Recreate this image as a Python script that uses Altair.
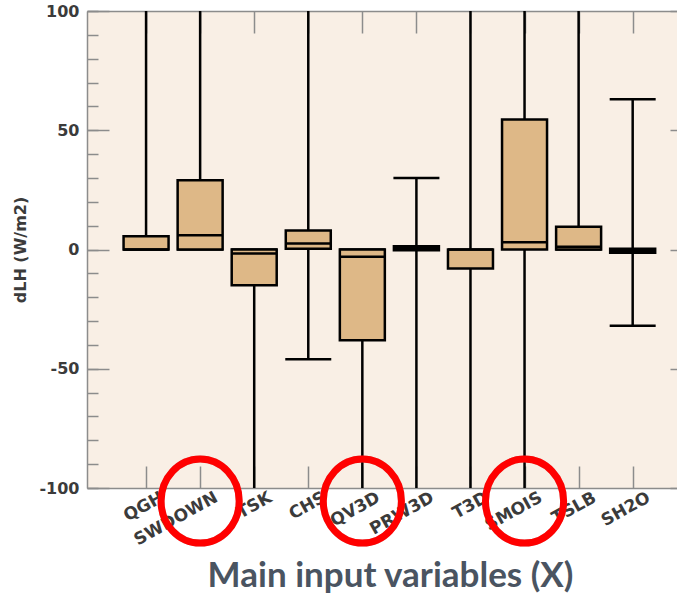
import json
import altair as alt
import pandas as pd

# Sensitivity of latent heat flux (dLH) to each input variable
categories = ["QGH", "SWDOWN", "TSK", "CHS", "QV3D", "PRW3D", "T3D", "SMOIS", "TSLB", "SH2O"]
# whisker ends (values past +-100 run off the panel)
whisker_low = [0, 0, -150, -46, -150, -150, -150, -150, 0, -32]
box_q1 = [0, 0, -15, 0.3, -38, -0.3, -8, 0, 0, -1.4]
box_median = [0, 6, -1.7, 2.5, -3, 0.6, 0, 3, 1.2, -0.5]
box_q3 = [5.6, 29, 0, 8, 0, 1.4, 0, 54.5, 9.5, 0.3]
whisker_high = [150, 150, 0, 150, 0, 30, 150, 150, 150, 63]

# variables picked out with a red ring
highlighted = ["SWDOWN", "QV3D", "SMOIS"]

y_major = [-100, -50, 0, 50, 100]
y_minor = list(range(-100, 101, 10))

positions = list(range(1, len(categories) + 1))
df = pd.DataFrame({
    "name": categories,
    "pos": positions,
    "low": whisker_low,
    "q1": box_q1,
    "median": box_median,
    "q3": box_q3,
    "high": whisker_high,
})
rings = df[df["name"].isin(highlighted)]

W, H = 590, 477
PX_PER_UNIT = 55
GRID_GRAY = "#8c8c8c"
LABEL_GRAY = "#3b3b3b"

x_scale = alt.Scale(domain=[0, W / PX_PER_UNIT], nice=False, zero=False)
y_scale = alt.Scale(domain=[-100, 100], nice=False, zero=False)

label_expr = json.dumps(categories) + "[datum.value - 1]"

# labelled axes
x_main = alt.Axis(
    orient="bottom", values=positions, labelExpr=label_expr, labelAngle=-29,
    labelAlign="right", labelBaseline="top", labelOffset=12, labelPadding=1,
    labelFont="DejaVu Sans", labelFontSize=17, labelFontWeight="bold",
    labelColor=LABEL_GRAY, labelOverlap=False, labelBound=False, labelFlush=False,
    ticks=False, domain=True, domainColor=GRID_GRAY, domainWidth=1.5, grid=False,
    title="Main input variables (X)", titleFont="Lato", titleFontSize=35,
    titleFontWeight="bold", titleColor="#4a5461", titleX=303, titleY=98,
    titleAlign="center", titleBaseline="alphabetic",
)
y_main = alt.Axis(
    orient="left", values=y_major, labelExpr="'' + datum.value", ticks=False,
    domain=True, domainColor=GRID_GRAY, domainWidth=1.5, grid=False,
    labelFont="DejaVu Sans", labelFontSize=16, labelFontWeight="bold",
    labelColor=LABEL_GRAY, labelPadding=8,
    title="dLH (W/m2)", titleFont="DejaVu Sans", titleFontSize=16,
    titleFontWeight="bold", titleColor=LABEL_GRAY, titleX=-67, titleY=H / 2,
    titleAngle=270, titleAlign="center", titleBaseline="middle",
)


def inward(orient, offset, values, size, domain=False):
    return alt.Axis(
        orient=orient, offset=offset, values=values, tickSize=size,
        tickColor=GRID_GRAY, tickWidth=1.5, labels=False, domain=domain,
        domainColor=GRID_GRAY, domainWidth=1.5, grid=False, title=None,
    )


# tick marks pointing into the panel on every side
y_major_in = inward("right", -W, y_major, 22)
y_minor_in = inward("right", -W, y_minor, 11)
y_right_in = inward("left", -W, y_major, 7)
x_bottom_in = inward("top", -H, positions, 22)
x_top_in = inward("bottom", -H, positions, 22, domain=True)

base = alt.Chart(df)

whiskers = base.mark_rule(color="black", strokeWidth=2.5, clip=True).encode(
    x=alt.X("pos:Q", scale=x_scale, axis=x_main),
    y=alt.Y("low:Q", scale=y_scale, axis=y_main),
    y2="high:Q",
)

caps_low = base.mark_tick(
    orient="horizontal", size=46, thickness=2.5, color="black", opacity=1, clip=True
).encode(
    x=alt.X("pos:Q", scale=x_scale, axis=x_bottom_in),
    y=alt.Y("low:Q", scale=y_scale, axis=y_major_in),
)

caps_high = base.mark_tick(
    orient="horizontal", size=46, thickness=2.5, color="black", opacity=1, clip=True
).encode(
    x=alt.X("pos:Q", scale=x_scale, axis=x_top_in),
    y=alt.Y("high:Q", scale=y_scale, axis=y_minor_in),
)

boxes = base.mark_bar(
    size=45, fill="#deb887", stroke="black", strokeWidth=2.5, clip=True
).encode(
    x=alt.X("pos:Q", scale=x_scale, axis=None),
    y=alt.Y("q1:Q", scale=y_scale, axis=y_right_in),
    y2="q3:Q",
)

medians = base.mark_tick(
    orient="horizontal", size=45, thickness=2.5, color="black", opacity=1, clip=True
).encode(
    x=alt.X("pos:Q", scale=x_scale, axis=None),
    y=alt.Y("median:Q", scale=y_scale, axis=None),
)

ELLIPSE = "M -0.93 0 A 0.93 1 0 1 1 0.93 0 A 0.93 1 0 1 1 -0.93 0 Z"

ring_shadow = alt.Chart(rings).mark_point(
    shape=ELLIPSE, size=7056, filled=False, stroke="#777777", strokeWidth=7,
    opacity=0.35, clip=False, dx=-4, dy=3,
).encode(
    x=alt.X("pos:Q", scale=x_scale, axis=None),
    y=alt.YDatum(-105.5, scale=y_scale, axis=None),
)

ring = alt.Chart(rings).mark_point(
    shape=ELLIPSE, size=7056, filled=False, stroke="#ff0000", strokeWidth=7,
    opacity=1, clip=False, dx=-6,
).encode(
    x=alt.X("pos:Q", scale=x_scale, axis=None),
    y=alt.YDatum(-105.5, scale=y_scale, axis=None),
)

chart = (
    alt.layer(whiskers, caps_low, caps_high, boxes, medians, ring_shadow, ring)
    .resolve_axis(x="independent", y="independent")
    .properties(
        width=W,
        height=H,
        autosize=alt.AutoSizeParams(type="none"),
        padding={"left": 87, "top": 11, "right": 0, "bottom": 112},
        background="white",
    )
    .configure_view(fill="#f9efe5", stroke=None)
)

chart.save("out.html", embed_options={"renderer": "svg", "actions": False})
